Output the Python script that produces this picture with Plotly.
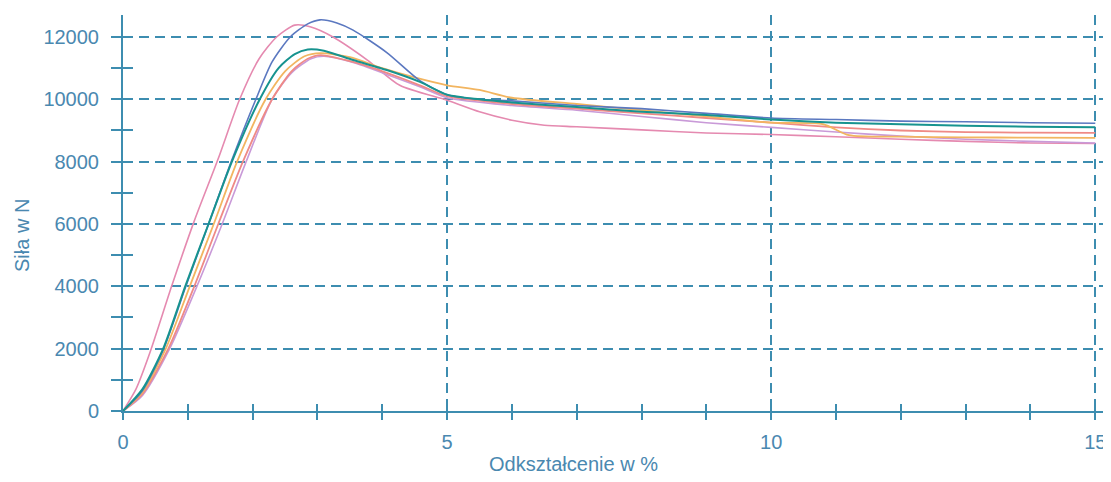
import plotly.graph_objects as go

# ---- data (strain in %, force in N) ----
pink_x = [0, 0.2, 0.42, 0.75, 1.1, 1.47, 1.8, 2.1, 2.37, 2.65, 2.9, 3.24, 3.77, 4.27, 5.0, 5.5, 6.0, 6.5, 7, 8, 9, 10, 11, 12, 13, 14, 15]
pink_y = [0, 700, 1900, 4000, 6100, 8100, 10000, 11300, 12000, 12380, 12320, 12000, 11260, 10450, 9970, 9600, 9330, 9170, 9120, 9020, 8920, 8870, 8800, 8720, 8650, 8600, 8580]

blue_x = [0, 0.3, 0.62, 0.97, 1.32, 1.67, 2.05, 2.3, 2.58, 2.85, 3.04, 3.3, 3.55, 4.07, 4.58, 5.0, 5.5, 6, 7, 8, 9, 10, 11, 12, 13, 14, 15]
blue_y = [0, 650, 1950, 4000, 6000, 8000, 10000, 11200, 12000, 12420, 12550, 12450, 12220, 11500, 10600, 10150, 10000, 9950, 9800, 9700, 9550, 9400, 9350, 9300, 9280, 9250, 9230]

teal_x = [0, 0.3, 0.62, 0.96, 1.32, 1.68, 2.11, 2.4, 2.65, 2.85, 3.1, 3.55, 4.07, 4.58, 5.0, 5.5, 6, 7, 8, 9, 10, 11, 12, 13, 14, 15]
teal_y = [0, 700, 2000, 4000, 6000, 8000, 10000, 11000, 11450, 11600, 11560, 11260, 10940, 10560, 10150, 10000, 9900, 9750, 9600, 9500, 9350, 9250, 9200, 9150, 9120, 9100]

orange_x = [0, 0.3, 0.66, 1.03, 1.4, 1.76, 2.2, 2.5, 2.8, 3.05, 3.5, 4.0, 4.5, 5.0, 5.5, 6.0, 7, 8, 9, 10, 10.8, 11.2, 12, 13, 14, 15]
orange_y = [0, 600, 2000, 4000, 6000, 8000, 10000, 10900, 11380, 11480, 11350, 11000, 10700, 10450, 10300, 10050, 9850, 9650, 9450, 9250, 9200, 8850, 8800, 8780, 8770, 8760]

salmon_x = [0, 0.3, 0.7, 1.1, 1.47, 1.85, 2.3, 2.6, 2.85, 3.05, 3.55, 4.07, 4.58, 5.0, 6, 7, 8, 9, 10, 11, 12, 13, 14, 15]
salmon_y = [0, 550, 2000, 4000, 6000, 8000, 10000, 10900, 11300, 11420, 11200, 10850, 10450, 10100, 9850, 9700, 9550, 9400, 9250, 9100, 9000, 8950, 8930, 8920]

lav_x = [0, 0.3, 0.72, 1.14, 1.53, 1.9, 2.3, 2.6, 2.9, 3.1, 3.55, 4.07, 4.58, 5.0, 6, 7, 8, 9, 10, 11, 12, 13, 14, 15]
lav_y = [0, 500, 2000, 4000, 6000, 8000, 10000, 10850, 11300, 11380, 11180, 10800, 10400, 10050, 9800, 9650, 9450, 9250, 9100, 8950, 8820, 8720, 8650, 8600]

series = [
    ("pink", pink_x, pink_y, "#e58ab0", 1.6),
    ("lavender", lav_x, lav_y, "#c99ad8", 1.6),
    ("salmon", salmon_x, salmon_y, "#ef8a86", 1.8),
    ("orange", orange_x, orange_y, "#f2b560", 1.8),
    ("blue", blue_x, blue_y, "#5b78c0", 1.6),
    ("teal", teal_x, teal_y, "#17938f", 2.0),
]

x_ticks = [0, 5, 10, 15]
y_ticks = [0, 2000, 4000, 6000, 8000, 10000, 12000]

AX = "#3d8db0"
TXT = "#4a88b0"
FONT = "Liberation Sans, Arial, sans-serif"
FS = 20

fig = go.Figure()
for name, xs, ys, col, w in series:
    fig.add_trace(go.Scatter(x=xs, y=ys, mode="lines", name=name,
                             line=dict(color=col, width=w, shape="spline", smoothing=0.7)))
# empty trace to activate the overlay axes (used for crossing ticks)
fig.add_trace(go.Scatter(x=[], y=[], xaxis="x2", yaxis="y2", showlegend=False))

xr = [0, 15.15]
yr = [0, 12705]

# page body has an 8px margin, so the figure is sized/offset accordingly
fig.update_layout(
    width=1103, height=466,
    margin=dict(l=115, r=6, t=7, b=63),
    plot_bgcolor="white", paper_bgcolor="white",
    showlegend=False,
    font=dict(family=FONT, color=TXT, size=FS),
    xaxis=dict(
        range=xr, tickvals=x_ticks, ticktext=[str(v) for v in x_ticks],
        showgrid=True, gridcolor=AX, gridwidth=2, griddash="10px,6px",
        showline=True, linecolor=AX, linewidth=2, zeroline=False,
        ticks="outside", ticklen=7, tickwidth=2, tickcolor=AX,
        minor=dict(dtick=1, tick0=0, ticks="outside", ticklen=7, tickwidth=2, tickcolor=AX, showgrid=False),
        tickfont=dict(size=FS, color=TXT, family=FONT),
        ticklabelstandoff=5, ticklabeloverflow="allow",
    ),
    yaxis=dict(
        range=yr, tickvals=y_ticks, ticktext=[str(v) for v in y_ticks],
        showgrid=True, gridcolor=AX, gridwidth=2, griddash="10px,6px",
        showline=True, linecolor=AX, linewidth=2, zeroline=False,
        ticks="outside", ticklen=10, tickwidth=2, tickcolor=AX,
        minor=dict(dtick=1000, tick0=0, ticks="outside", ticklen=10, tickwidth=2, tickcolor=AX, showgrid=False),
        tickfont=dict(size=FS, color=TXT, family=FONT),
        ticklabelstandoff=8,
    ),
    xaxis2=dict(
        range=xr, overlaying="x", anchor="y", side="bottom",
        tickvals=x_ticks, showticklabels=False, showgrid=False, showline=False, zeroline=False,
        ticks="inside", ticklen=7, tickwidth=2, tickcolor=AX,
        minor=dict(dtick=1, tick0=0, ticks="inside", ticklen=7, tickwidth=2, tickcolor=AX, showgrid=False),
    ),
    yaxis2=dict(
        range=yr, overlaying="y", anchor="x", side="left",
        tickvals=y_ticks, showticklabels=False, showgrid=False, showline=False, zeroline=False,
        ticks="inside", ticklen=10, tickwidth=2, tickcolor=AX,
        minor=dict(dtick=1000, tick0=0, ticks="inside", ticklen=10, tickwidth=2, tickcolor=AX, showgrid=False),
    ),
    annotations=[
        dict(text="Siła w N", xref="paper", yref="paper", x=-0.103, y=0.444,
             textangle=-90, showarrow=False, xanchor="center", yanchor="middle",
             font=dict(size=FS, color=TXT, family=FONT)),
        dict(text="Odkształcenie w %", xref="paper", yref="paper", x=0.459, y=-0.135,
             showarrow=False, xanchor="center", yanchor="middle",
             font=dict(size=FS, color=TXT, family=FONT)),
    ],
)

fig.write_html("out.html")
